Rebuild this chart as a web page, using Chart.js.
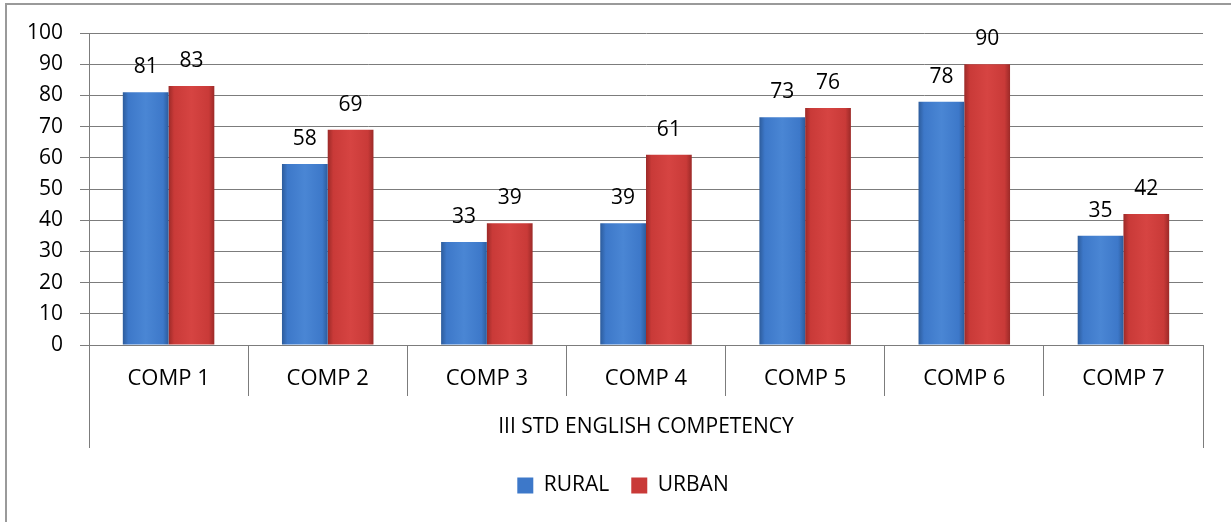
<!DOCTYPE html>
<html>
<head>
<meta charset="utf-8">
<script src="https://cdn.jsdelivr.net/npm/chart.js@4/dist/chart.umd.min.js"></script>
<style>
  html, body { margin:0; padding:0; background:#fff; }
  #wrap { position:relative; width:1231px; height:522px; overflow:hidden; }
  #frame { position:absolute; left:5px; top:3px; width:1300px; height:600px;
           border-left:2px solid #9a9a9a; border-top:2px solid #9a9a9a; }
  #c { position:absolute; left:0; top:0; }
</style>
</head>
<body>
<div id="wrap">
  <div id="frame"></div>
  <canvas id="c" width="1231" height="522"></canvas>
</div>
<script>
// chart data
const categories = ['COMP 1','COMP 2','COMP 3','COMP 4','COMP 5','COMP 6','COMP 7'];
const groupLabel = ['III STD ENGLISH COMPETENCY'];
const rural = [81, 58, 33, 39, 73, 78, 35];
const urban = [83, 69, 39, 61, 76, 90, 42];
const yTicks = [0,10,20,30,40,50,60,70,80,90,100];

const FONT = '"Open Sans", "DejaVu Sans", sans-serif';
const gridCol = '#7c7c7c';
const catPct = 0.575;

const palette = [
  { edge:'#2d5c9c', mid:'#4a86d4', solid:'#3d78c9' },
  { edge:'#9c2a28', mid:'#d64442', solid:'#c93a38' }
];

// horizontal shading for each bar, worked out from the x scale
function barFill(c){
  const chart = c.chart;
  const xs = chart.scales.x;
  const p = palette[c.datasetIndex];
  if (!xs || xs.width <= 0) return p.solid;
  const center = xs.getPixelForValue(c.dataIndex);
  const catW = xs.width / categories.length;
  const bw = catW * catPct / 2;
  const left = c.datasetIndex === 0 ? center - bw : center;
  const g = chart.ctx.createLinearGradient(left, 0, left + bw, 0);
  g.addColorStop(0, p.edge);
  g.addColorStop(0.12, p.solid);
  g.addColorStop(0.5, p.mid);
  g.addColorStop(0.88, p.solid);
  g.addColorStop(1, p.edge);
  return g;
}

// value labels above bars
const valueLabels = {
  id:'valueLabels',
  afterDatasetsDraw(chart){
    const ctx = chart.ctx;
    ctx.save();
    ctx.font = '21px ' + FONT;
    ctx.fillStyle = '#000';
    ctx.textAlign = 'center';
    ctx.textBaseline = 'alphabetic';
    chart.data.datasets.forEach((ds, di) => {
      chart.getDatasetMeta(di).data.forEach((bar, i) => {
        ctx.fillText(String(ds.data[i]), bar.x, bar.y - 19);
      });
    });
    ctx.restore();
  }
};

new Chart(document.getElementById('c'), {
  type:'bar',
  data:{
    labels: categories,
    datasets:[
      { label:'RURAL', data: rural, backgroundColor: barFill, borderWidth:0,
        categoryPercentage: catPct, barPercentage: 1.0 },
      { label:'URBAN', data: urban, backgroundColor: barFill, borderWidth:0,
        categoryPercentage: catPct, barPercentage: 1.0 }
    ]
  },
  options:{
    responsive:false,
    animation:false,
    devicePixelRatio:1,
    layout:{ padding:{ left:15, right:0, top:33, bottom:16 } },
    plugins:{
      tooltip:{ enabled:false },
      legend:{
        position:'bottom',
        labels:{
          font:{ family:FONT, size:21 },
          color:'#000',
          boxWidth:16, boxHeight:16,
          padding:22,
          generateLabels(chart){
            return chart.data.datasets.map((ds, i) => ({
              text: ds.label, fillStyle: palette[i].solid, strokeStyle: palette[i].solid,
              lineWidth:0, hidden:false, datasetIndex:i
            }));
          }
        }
      }
    },
    scales:{
      y:{
        min:0, max:100,
        afterFit(s){ s.width = 74; },
        afterBuildTicks(s){ s.ticks = yTicks.map(v => ({ value:v })); },
        ticks:{ font:{ family:FONT, size:21 }, color:'#000', padding:17 },
        grid:{ color:gridCol, lineWidth:1, tickLength:9 },
        border:{ color:gridCol, width:1 }
      },
      // empty right-hand spacer so the plot ends where the reference does
      yRight:{
        type:'linear', position:'right', min:0, max:100,
        afterFit(s){ s.width = 28; },
        ticks:{ display:false },
        grid:{ display:false },
        border:{ display:false }
      },
      x:{
        position:'bottom',
        afterFit(s){ s.height = 51; },
        ticks:{ font:{ family:FONT, size:22 }, color:'#000', padding:-30, maxRotation:0 },
        grid:{ offset:true, drawOnChartArea:false, color:gridCol, lineWidth:1, tickLength:51 },
        border:{ color:gridCol, width:1 }
      },
      x2:{
        type:'category',
        position:'bottom',
        labels: groupLabel,
        afterFit(s){ s.height = 57; },
        ticks:{ font:{ family:FONT, size:21 }, color:'#000', padding:-34, maxRotation:0 },
        grid:{ offset:true, drawOnChartArea:false, color:gridCol, lineWidth:1, tickLength:52 },
        border:{ display:false }
      }
    }
  },
  plugins:[valueLabels]
});
</script>
</body>
</html>
